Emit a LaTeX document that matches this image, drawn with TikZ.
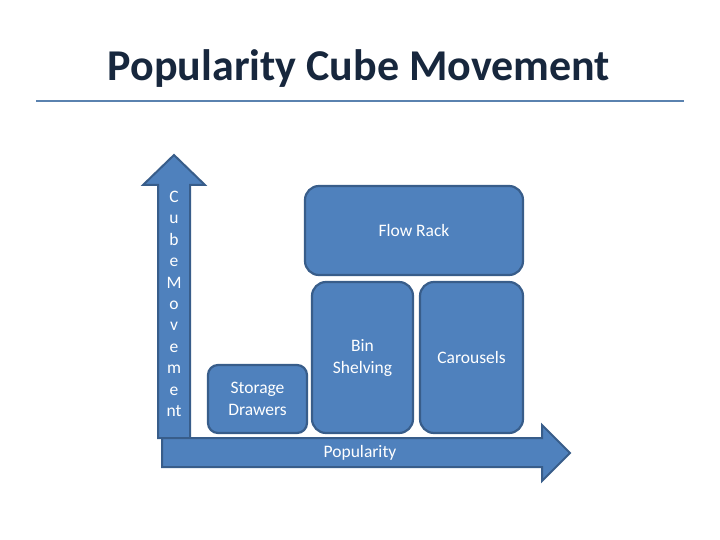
\documentclass[tikz,border=0pt]{standalone}
\usepackage{fontspec}
\setmainfont{Carlito}
\usetikzlibrary{positioning}
\definecolor{boxfill}{HTML}{4F81BD}
\definecolor{boxedge}{HTML}{385D8A}
\definecolor{titlecol}{HTML}{17273D}
\definecolor{rulecol}{HTML}{5A82AF}
\tikzset{
  cube/.style={draw=boxedge, fill=boxfill, line width=2.2pt, rounded corners=14pt},
  arrowshape/.style={draw=boxedge, fill=boxfill, line width=2pt, line join=miter},
  lbl/.style={text=white, font=\fontsize{17.5}{22}\selectfont, align=center, inner sep=0pt},
}
\begin{document}
\begin{tikzpicture}[x=1pt,y=-1pt]
\useasboundingbox (0,0) rectangle (720,540);
% title
\node[font=\bfseries\fontsize{44}{48}\selectfont, text=titlecol, inner sep=0pt, anchor=base] (title) at (359,81) {Popularity Cube Movement};
\coordinate (ruleL) at (36,101);
\coordinate (ruleR) at (684,101);
\draw[rulecol, line width=2pt] (ruleL) -- (ruleR);
% vertical arrow
\draw[arrowshape] (158,438) -- (158,185) -- (143,185) -- (174,155) -- (205,185) -- (190,185) -- (190,438) -- cycle;
% horizontal arrow
\draw[arrowshape] (162,438) -- (542,438) -- (542,425) -- (570,453) -- (542,481) -- (542,467) -- (162,467) -- cycle;
\node[lbl] (pop) at (360,453) {Popularity};
\node[lbl, font=\fontsize{17.5}{21.4}\selectfont, anchor=north] (cm) at (174,191) {C\\u\\b\\e\\M\\o\\v\\e\\m\\e\\nt};
% boxes
\node[cube, minimum width=218pt, minimum height=89pt] (flow) at (414,230.5) {};
\node[lbl] at (flow) {Flow Rack};
\node[cube, minimum width=101pt, minimum height=151pt] (bin) at (362.5,357.5) {};
\node[lbl] at (bin) {Bin\\Shelving};
\node[cube, minimum width=103pt, minimum height=151pt] (car) at (471.5,357.5) {};
\node[lbl] at (car) {Carousels};
\node[cube, rounded corners=10pt, minimum width=99pt, minimum height=68pt] (sd) at (257.5,399) {};
\node[lbl] at (sd) {Storage\\Drawers};
\end{tikzpicture}
\end{document}
